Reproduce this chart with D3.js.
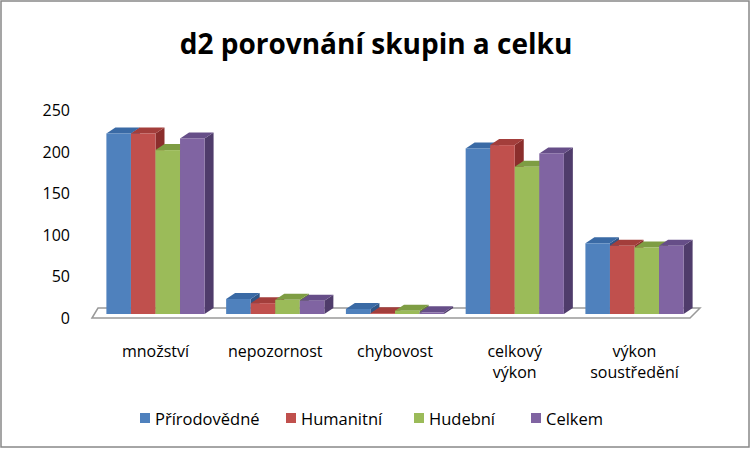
<!DOCTYPE html><html><head><meta charset="utf-8"><script src="https://cdn.jsdelivr.net/npm/d3@7"></script>
<style>body{margin:0;background:#fff}</style></head><body><svg id="c" width="753" height="451"></svg>
<script>
const categories=[["množství"],["nepozornost"],["chybovost"],["celkový","výkon"],["výkon","soustředění"]];
const seriesNames=["Přírodovědné","Humanitní","Hudební","Celkem"];
const prirodovedne=[217,18,6,199,85];
const humanitni=[217,13,1,203,82];
const hudebni=[197,17,4,177,80];
const celkem=[211,16,2,193,82];
const yTicks=[0,50,100,150,200,250];
const colors=["#4F81BD","#C0504D","#9BBB59","#8064A2"];
const tops=["#3A6AA5","#A33E3B","#7E9D43","#664E88"];
const sides=["#2F5587","#8B2E2C","#657F35","#4F3C6B"];
const series=[prirodovedne,humanitni,hudebni,celkem];
const svg=d3.select("#c");
svg.append("rect").attr("x",1).attr("y",1).attr("width",748).attr("height",446).attr("fill","#fff").attr("stroke","#888").attr("stroke-width",1.5);
svg.append("text").attr("x",376).attr("y",54).attr("text-anchor","middle").attr("font-family","Open Sans, sans-serif").attr("font-weight","bold").attr("font-size",28).text("d2 porovnání skupin a celku");
const y=d3.scaleLinear().domain([0,250]).range([314,106]);
const x0=d3.scaleBand().domain(d3.range(5)).range([104,686]).paddingInner(0.18).paddingOuter(0.02);
const x1=d3.scaleBand().domain(d3.range(4)).range([0,x0.bandwidth()]);
const dx=9,dy=6;
svg.append("path").attr("d",`M92,318 L98,308 L700,308 L690,318 Z`).attr("fill","#fff").attr("stroke","#999").attr("stroke-width",1.5);
svg.append("g").attr("font-family","Open Sans, sans-serif").attr("font-size",16).selectAll("text").data(yTicks).join("text")
 .attr("x",70).attr("y",d=>y(d)+10).attr("text-anchor","end").text(d=>d);
const g=svg.append("g");
categories.forEach((c,i)=>{
 series.forEach((s,j)=>{
  const bx=x0(i)+x1(j), w=x1.bandwidth(), ty=y(s[i]), by=y(0);
  g.append("path").attr("d",`M${bx+w},${ty} l${dx},${-dy} L${bx+w+dx},${by-dy} L${bx+w},${by} Z`).attr("fill",sides[j]);
  g.append("path").attr("d",`M${bx},${ty} l${dx},${-dy} l${w},0 l${-dx},${dy} Z`).attr("fill",tops[j]);
  g.append("rect").attr("x",bx).attr("y",ty).attr("width",w).attr("height",by-ty).attr("fill",colors[j]);
 });
 const t=svg.append("text").attr("font-family","Open Sans, sans-serif").attr("font-size",16).attr("text-anchor","middle");
 c.forEach((l,k)=>t.append("tspan").attr("x",x0(i)+x0.bandwidth()/2).attr("y",357+k*21).text(l));
});
const lg=svg.append("g").attr("font-family","Open Sans, sans-serif").attr("font-size",16.5);
const lx=[140,286,414,531];
seriesNames.forEach((n,j)=>{
 lg.append("rect").attr("x",lx[j]).attr("y",413).attr("width",10).attr("height",10).attr("fill",colors[j]);
 lg.append("text").attr("x",lx[j]+15).attr("y",425).text(n);
});
</script></body></html>
